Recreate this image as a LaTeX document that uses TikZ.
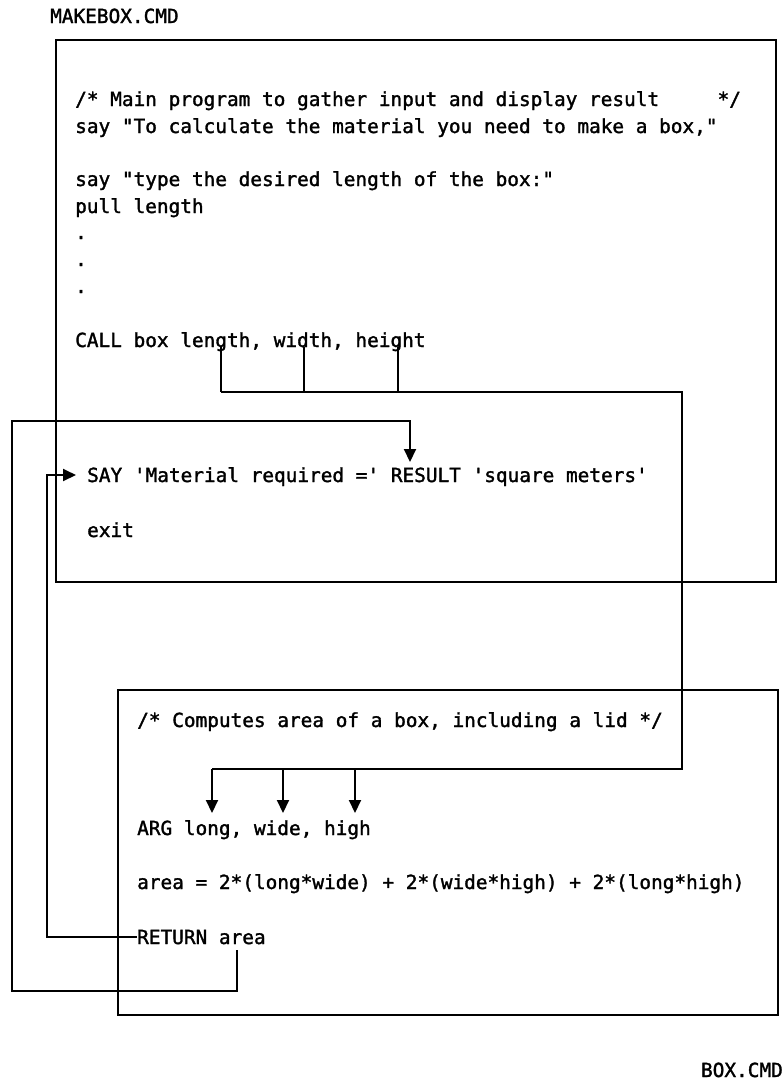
\documentclass[tikz,border=0pt]{standalone}
\usepackage{fontspec}
\newfontfamily\codefont[FakeBold=1.6]{DejaVu Sans Mono}
\usetikzlibrary{arrows.meta}
\newcommand\myq{\symbol{39}}
\newcommand\mydq{\symbol{34}}
\begin{document}
\begin{tikzpicture}[x=1pt,y=-1pt,
  code/.style={anchor=west, inner sep=0pt, text height=14pt, text depth=0pt,
    font=\codefont\fontsize{19.4pt}{23pt}\selectfont},
  frame/.style={line width=2pt},
  wire/.style={line width=2pt},
  arr/.style={wire, -{Triangle[width=12pt,length=13pt]}}]
\useasboundingbox (0,0) rectangle (782,1080);

% frames
\draw[frame] (56,40) rectangle (776,582);
\draw[frame] (118,690) rectangle (778,1015);

% texts
\node[code] (title) at (50,16) {MAKEBOX.CMD};
\node[code] (l1) at (75,99) {/* Main program to gather input and display result\ \ \ \ \ */};
\node[code] (l2) at (75,126) {say \mydq To calculate the material you need to make a box,\mydq};
\node[code] (l3) at (75,179) {say \mydq type the desired length of the box:\mydq};
\node[code] (l4) at (75,206) {pull length};
\node[code] (d1) at (75,232) {.};
\node[code] (d2) at (75,259) {.};
\node[code] (d3) at (75,286) {.};
\node[code] (call) at (75,340) {CALL box length, width, height};
\node[code] (say) at (87,475) {SAY \myq Material required =\myq{} RESULT \myq square meters\myq};
\node[code] (exit) at (87,530) {exit};
\node[code] (cmt) at (137,720) {/* Computes area of a box, including a lid */};
\node[code] (arg) at (137,828) {ARG long, wide, high};
\node[code] (area) at (137,882) {area = 2*(long*wide) + 2*(wide*high) + 2*(long*high)};
\node[code] (ret) at (137,937) {RETURN area};
\node[code, anchor=east] (boxname) at (783,1070) {BOX.CMD};

% call -> arg bus
\coordinate (b1) at (221,392);
\coordinate (b2) at (304,392);
\coordinate (b3) at (398,392);
\coordinate (br) at (682,392);
\coordinate (bd) at (682,769);
\coordinate (a1) at (212,769);
\coordinate (t1) at (212,813);
\coordinate (t2) at (283,813);
\coordinate (t3) at (355,813);
\draw[wire] (b1 |- call.south) -- (b1);
\draw[wire] (b2 |- call.south) -- (b2);
\draw[wire] (b3 |- call.south) -- (b3);
\draw[wire] (b1) -- (br) -- (bd) -- (a1);
\draw[arr] (a1) -- (t1);
\draw[arr] (t2 |- a1) -- (t2);
\draw[arr] (t3 |- a1) -- (t3);

% return area -> RESULT
\coordinate (ra) at (237,950);
\coordinate (lb) at (12,991);
\coordinate (lt) at (12,421);
\coordinate (rt) at (410,421);
\coordinate (rtip) at (410,462);
\draw[arr] (ra) |- (lb) -- (lt) -- (rt) -- (rtip);

% RETURN -> SAY
\draw[arr] (ret.west) -| ([xshift=-40pt]say.west) -- ([xshift=-11pt]say.west);
\end{tikzpicture}
\end{document}
